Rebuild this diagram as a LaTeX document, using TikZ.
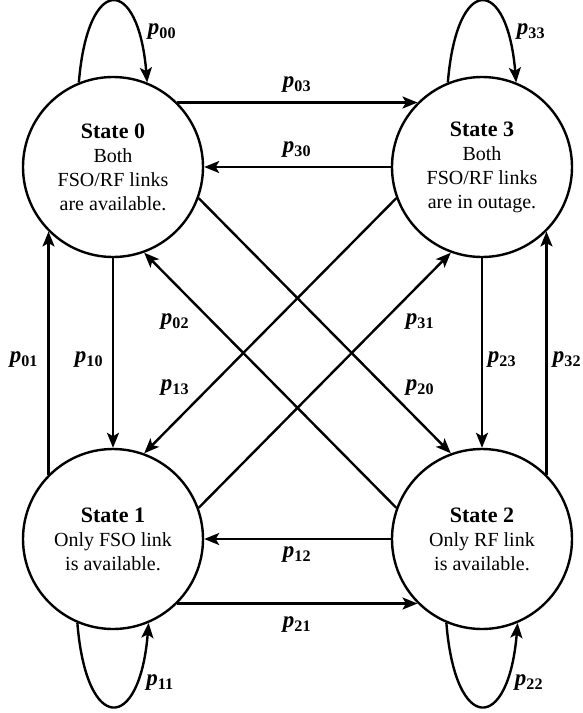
\documentclass[tikz,border=0pt]{standalone}
\usepackage{fontspec}
\setmainfont{Liberation Serif}
\usetikzlibrary{arrows.meta}

\tikzset{
  state/.style={circle, draw, line width=2.4pt, minimum size=180pt, inner sep=0pt,
    align=center, font=\fontsize{20}{24}\selectfont},
  link/.style={-{Stealth[length=15pt,width=12pt,inset=3.5pt]}, line width=2.4pt},
  prob/.style={font=\fontsize{23}{24}\selectfont\bfseries\itshape, inner sep=1pt},
}
\newcommand{\pij}[1]{p\textsubscript{\upshape #1}}
\newcommand{\stitle}[1]{{\bfseries\fontsize{22}{25}\selectfont #1}}

\begin{document}
\begin{tikzpicture}[x=1pt, y=-1pt]
  \useasboundingbox (0,0) rectangle (583,713);
  % the four states
  \node[state] (s0) at (113,167) {\stitle{State 0}\\Both\\FSO/RF links\\are available.};
  \node[state] (s3) at (482,167) {\stitle{State 3}\\Both\\FSO/RF links\\are in outage.};
  \node[state] (s1) at (113,539) {\stitle{State 1}\\Only FSO link\\is available.};
  \node[state] (s2) at (482,539) {\stitle{State 2}\\Only RF link\\is available.};

  % self loops
  \draw[link] (s0.112) .. controls +(9,-109) and +(-9,-107) .. (s0.68);
  \draw[link] (s3.112) .. controls +(9,-109) and +(-9,-107) .. (s3.68);
  \draw[link] (s1.247) .. controls +(9,112) and +(-9,110) .. (s1.293);
  \draw[link] (s2.247) .. controls +(9,112) and +(-9,110) .. (s2.293);

  % horizontal and vertical transitions
  \draw[link] (s0.45) -- (s3.135);
  \draw[link] (s3.180) -- (s0.0);
  \draw[link] (s2.180) -- (s1.0);
  \draw[link] (s1.-45) -- (s2.-135);
  \draw[link] (s1.135) -- (s0.-135);
  \draw[link] (s0.-90) -- (s1.90);
  \draw[link] (s3.-90) -- (s2.90);
  \draw[link] (s2.45) -- (s3.-45);

  % diagonals
  \draw[link] (s2.160) -- (s0.-70);
  \draw[link] (s0.-20) -- (s2.110);
  \draw[link] (s3.200) -- (s1.70);
  \draw[link] (s1.20) -- (s3.250);

  % transition probabilities
  \node[prob] (p00) at (162,32) {\pij{00}};
  \node[prob] (p33) at (531,32) {\pij{33}};
  \node[prob] (p11) at (160,683) {\pij{11}};
  \node[prob] (p22) at (529,683) {\pij{22}};
  \node[prob] (p03) at (297,85) {\pij{03}};
  \node[prob] (p30) at (297,150) {\pij{30}};
  \node[prob] (p12) at (297,555) {\pij{12}};
  \node[prob] (p21) at (297,625) {\pij{21}};
  \node[prob] (p01) at (24,360) {\pij{01}};
  \node[prob] (p10) at (89,360) {\pij{10}};
  \node[prob] (p23) at (502,360) {\pij{23}};
  \node[prob] (p32) at (567,360) {\pij{32}};
  \node[prob] (p02) at (175,322) {\pij{02}};
  \node[prob] (p31) at (420,322) {\pij{31}};
  \node[prob] (p13) at (175,388) {\pij{13}};
  \node[prob] (p20) at (420,388) {\pij{20}};
\end{tikzpicture}
\end{document}
